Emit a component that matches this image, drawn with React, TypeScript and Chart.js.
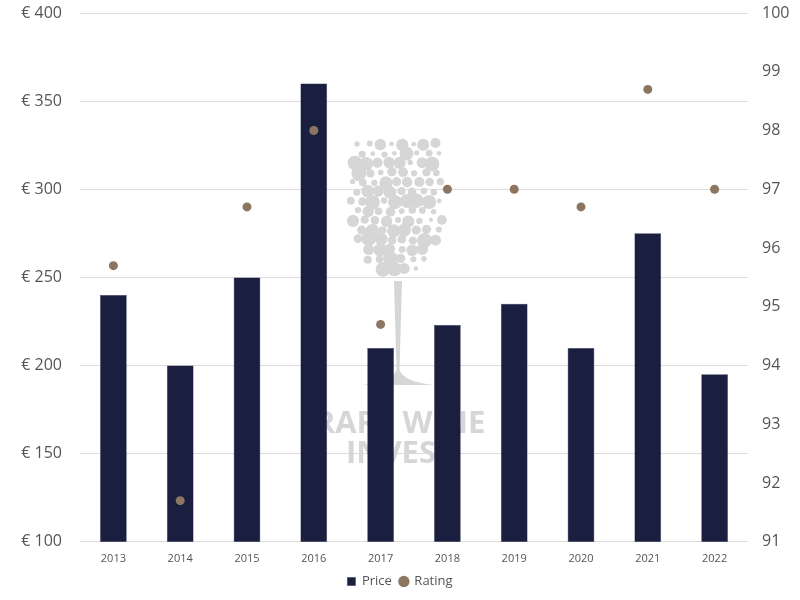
import React, { useEffect, useRef } from "react";
import { Chart, registerables } from "chart.js";

Chart.register(...registerables);

const years = ["2013", "2014", "2015", "2016", "2017", "2018", "2019", "2020", "2021", "2022"];
const prices = [240, 200, 250, 360, 210, 223, 235, 210, 275, 195];
const ratings = [95.7, 91.7, 96.7, 98, 94.7, 97, 97, 96.7, 98.7, 97];
const priceTicks = [100, 150, 200, 250, 300, 350, 400];

const FONT = "'Open Sans', sans-serif";

function hash(a: number, b: number) {
  const s = Math.sin(a * 127.1 + b * 311.7) * 43758.5453;
  return s - Math.floor(s);
}

const watermark = {
  id: "watermark",
  beforeDatasetsDraw(chart: any) {
    const { ctx } = chart;
    const gx = 398;
    ctx.save();
    ctx.fillStyle = "#d6d6d6";
    // bowl of bubbles
    const top = 144;
    const bottom = 272;
    const step = 11;
    for (let y = top, r = 0; y <= bottom; y += step * 0.87, r++) {
      const t = (y - top) / (bottom - top);
      let half: number;
      if (t < 0.4) half = 40 + 7 * (t / 0.4);
      else half = 47 * Math.sqrt(Math.max(0, 1 - Math.pow((t - 0.4) / 0.64, 2)));
      half = Math.max(half, 12);
      const off = r % 2 ? step / 2 : 0;
      for (let x = gx - half + off; x <= gx + half; x += step) {
        const h = hash(x, y);
        const rad = 2 + h * 5.5;
        const jx = (hash(y, x) - 0.5) * 2;
        const jy = (hash(x + 1, y + 2) - 0.5) * 2;
        ctx.beginPath();
        ctx.arc(x + jx, y + jy, rad, 0, Math.PI * 2);
        ctx.fill();
      }
    }
    // stem
    ctx.beginPath();
    ctx.moveTo(gx - 4, 281);
    ctx.lineTo(gx + 4, 281);
    ctx.lineTo(gx + 1.5, 370);
    ctx.quadraticCurveTo(gx + 6, 382, gx + 36, 385);
    ctx.lineTo(gx - 36, 385);
    ctx.quadraticCurveTo(gx - 6, 382, gx - 1.5, 370);
    ctx.closePath();
    ctx.fill();
    ctx.font = `bold 31px ${FONT}`;
    ctx.textAlign = "center";
    ctx.textBaseline = "middle";
    ctx.fillText("RARE WINE", 400, 424);
    ctx.fillText("INVEST", 400, 454);
    ctx.restore();
  },
};

export default function App() {
  const ref = useRef<HTMLCanvasElement>(null);
  useEffect(() => {
    document.body.style.margin = "0";
    const chart = new Chart(ref.current!, {
      type: "bar",
      data: {
        labels: years,
        datasets: [
          {
            type: "bar",
            label: "Price",
            data: prices,
            backgroundColor: "#1b1f3f",
            borderColor: "#2a2f52",
            borderWidth: 0.5,
            pointStyle: "rect",
            yAxisID: "y",
            categoryPercentage: 1,
            barPercentage: 0.4,
            order: 2,
          } as any,
          {
            type: "line",
            label: "Rating",
            data: ratings,
            showLine: false,
            pointStyle: "circle",
            pointRadius: 4.5,
            backgroundColor: "#8c7561",
            borderColor: "#8c7561",
            pointBorderWidth: 0,
            yAxisID: "y1",
            order: 1,
          } as any,
        ],
      },
      options: {
        responsive: false,
        animation: false,
        layout: { padding: { top: 13, left: 0, right: 0, bottom: 2 } },
        plugins: {
          legend: {
            position: "bottom",
            labels: {
              usePointStyle: true,
              boxWidth: 8,
              boxHeight: 8,
              padding: 8,
              color: "#555",
              font: { family: FONT, size: 13 },
              sort: (a: any, b: any) => a.datasetIndex - b.datasetIndex,
            },
          },
          tooltip: { enabled: false },
        },
        scales: {
          x: {
            grid: { display: false },
            border: { display: false },
            ticks: { color: "#555", font: { family: FONT, size: 11 }, padding: 2 },
          },
          y: {
            position: "left",
            min: 100,
            max: 400,
            afterBuildTicks: (s: any) => {
              s.ticks = priceTicks.map((v) => ({ value: v }));
            },
            afterFit: (s: any) => {
              s.width = 80;
              s.paddingTop = 0;
              s.paddingBottom = 0;
            },
            grid: { color: "#dcdcdc", drawTicks: false },
            border: { display: false },
            ticks: {
              color: "#555",
              padding: 18,
              font: { family: FONT, size: 16 },
              callback: (v: any) => "€ " + v,
            },
          },
          y1: {
            position: "right",
            min: 91,
            max: 100,
            afterFit: (s: any) => {
              s.width = 52;
              s.paddingTop = 0;
              s.paddingBottom = 0;
            },
            grid: { display: false, drawTicks: false },
            border: { display: false },
            ticks: {
              stepSize: 1,
              color: "#555",
              padding: 14,
              font: { family: FONT, size: 16 },
            },
          },
        },
      },
      plugins: [watermark],
    });
    return () => chart.destroy();
  }, []);
  return (
    <div style={{ position: "absolute", left: 0, top: 0, width: 800, height: 600 }}>
      <canvas ref={ref} width={800} height={600} />
    </div>
  );
}
